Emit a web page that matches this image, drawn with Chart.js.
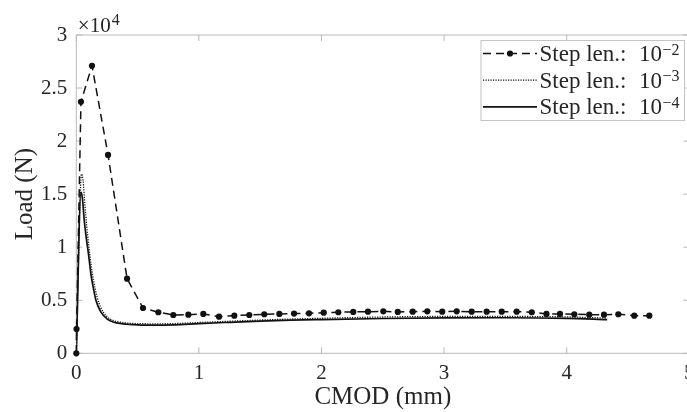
<!DOCTYPE html>
<html>
<head>
<meta charset="utf-8">
<script src="https://cdn.jsdelivr.net/npm/chart.js@4.4.1/dist/chart.umd.min.js"></script>
<style>
  html, body { margin: 0; padding: 0; background: #fff; overflow: hidden; }
  #wrap { width: 720px; height: 412px; }
</style>
</head>
<body>
<div id="wrap"><canvas id="loadChart" width="720" height="412"></canvas></div>
<script>
// Load vs CMOD for three step lengths
const cmodStep2 = [0, 0.002, 0.038, 0.128, 0.259, 0.414, 0.544, 0.669, 0.791, 0.914, 1.036, 1.164, 1.289, 1.411,
  1.533, 1.656, 1.776, 1.898, 2.018, 2.137, 2.259, 2.379, 2.504, 2.622, 2.744, 2.863, 2.985, 3.103, 3.225,
  3.347, 3.470, 3.592, 3.715, 3.835, 3.945, 4.062, 4.184, 4.304, 4.421, 4.551, 4.674];
const loadStep2 = [0, 2290, 23700, 27100, 18700, 7030, 4270, 3870, 3610, 3640, 3710, 3450, 3550, 3610,
  3680, 3710, 3740, 3770, 3830, 3870, 3900, 3920, 3960, 3900, 3920, 3960, 3920, 3960, 3920,
  3920, 3920, 3920, 3870, 3710, 3710, 3680, 3640, 3640, 3680, 3550, 3550];

const cmodStep3 = [0, 0.043, 0.055, 0.07, 0.085, 0.1, 0.12, 0.14, 0.17, 0.2, 0.25, 0.3, 0.38, 0.5, 0.65, 0.8,
  1.0, 1.25, 1.5, 1.75, 2.0, 2.5, 3.0, 3.5, 4.0, 4.33];
const loadStep3 = [0, 16900, 16300, 14000, 12000, 10300, 8400, 6900, 5300, 4300, 3450, 3100, 2900, 2800, 2780, 2800,
  2900, 3020, 3130, 3230, 3300, 3420, 3470, 3470, 3430, 3320];

const cmodStep4 = [0, 0.038, 0.05, 0.065, 0.08, 0.1, 0.12, 0.14, 0.16, 0.2, 0.25, 0.3, 0.38, 0.5, 0.65, 0.8,
  1.0, 1.25, 1.5, 1.75, 2.0, 2.5, 3.0, 3.5, 4.0, 4.33];
const loadStep4 = [0, 15200, 14600, 12500, 11000, 9300, 7400, 6100, 5000, 3900, 3250, 2950, 2780, 2680, 2650, 2680,
  2800, 2920, 3030, 3120, 3180, 3280, 3340, 3350, 3300, 3180];

const stepExponents = ['\u22122', '\u22123', '\u22124'];
const xTicks = [0, 1, 2, 3, 4, 5];
const yTicks = [0, 5000, 10000, 15000, 20000, 25000, 30000];
const yTickText = ['0', '0.5', '1', '1.5', '2', '2.5', '3'];

const AXIS_GRAY = '#b9b9b9';
const TEXT = '#262626';
const SERIF = '"Liberation Serif", "Times New Roman", serif';

const toPoints = (xs, ys) => xs.map((x, i) => ({ x: x, y: ys[i] }));

// box, inward ticks, the x10^4 multiplier and the legend
const framePlugin = {
  id: 'frame',
  beforeDatasetsDraw(chart) {
    const { ctx, chartArea: a, scales } = chart;
    const t = 6;
    ctx.save();
    ctx.strokeStyle = AXIS_GRAY;
    ctx.lineWidth = 1;
    ctx.strokeRect(a.left, a.top, a.right - a.left, a.bottom - a.top);
    ctx.beginPath();
    xTicks.forEach(v => {
      const px = scales.x.getPixelForValue(v);
      ctx.moveTo(px, a.bottom); ctx.lineTo(px, a.bottom - t);
      ctx.moveTo(px, a.top); ctx.lineTo(px, a.top + t);
    });
    yTicks.forEach(v => {
      const py = scales.y.getPixelForValue(v);
      ctx.moveTo(a.left, py); ctx.lineTo(a.left + t, py);
      ctx.moveTo(a.right, py); ctx.lineTo(a.right - t, py);
    });
    ctx.stroke();

    ctx.fillStyle = TEXT;
    ctx.textBaseline = 'alphabetic';
    ctx.textAlign = 'left';
    ctx.font = '21px ' + SERIF;
    ctx.fillText('\u00d710', a.left + 1.5, 31.5);
    ctx.font = '16px ' + SERIF;
    ctx.fillText('4', a.left + 35.5, 25);
    ctx.restore();
  },
  afterDatasetsDraw(chart) {
    const { ctx } = chart;
    const box = { left: 481, top: 40.5, right: 684.5, bottom: 120.5 };
    ctx.save();
    ctx.fillStyle = '#fff';
    ctx.fillRect(box.left, box.top, box.right - box.left, box.bottom - box.top);
    ctx.strokeStyle = '#c4c4c4';
    ctx.lineWidth = 1;
    ctx.strokeRect(box.left, box.top, box.right - box.left, box.bottom - box.top);

    chart.data.datasets.forEach((ds, i) => {
      const ly = 53.5 + i * 26.7;
      ctx.strokeStyle = ds.borderColor;
      ctx.lineWidth = ds.borderWidth;
      ctx.setLineDash(ds.borderDash || []);
      ctx.beginPath();
      ctx.moveTo(483, ly);
      ctx.lineTo(537, ly);
      ctx.stroke();
      ctx.setLineDash([]);
      if (ds.pointRadius > 0) {
        ctx.fillStyle = ds.pointBackgroundColor;
        ctx.beginPath();
        ctx.arc(510, ly, ds.pointRadius, 0, Math.PI * 2);
        ctx.fill();
      }
      ctx.fillStyle = TEXT;
      ctx.font = '23px ' + SERIF;
      ctx.fillText('Step len.:', 539.5, ly + 7.5);
      ctx.fillText('10', 639, ly + 7.5);
      ctx.font = '16px ' + SERIF;
      ctx.fillText(stepExponents[i], 662.5, ly + 1);
    });
    ctx.restore();
  }
};

const ctx = document.getElementById('loadChart').getContext('2d');

new Chart(ctx, {
  type: 'line',
  data: {
    datasets: [
      {
        label: 'Step len.: 10^-2',
        data: toPoints(cmodStep2, loadStep2),
        borderColor: '#111',
        borderWidth: 1.5,
        borderDash: [8, 5],
        pointRadius: 3.1,
        pointBackgroundColor: '#111',
        pointBorderWidth: 0,
        tension: 0,
        clip: 6
      },
      {
        label: 'Step len.: 10^-3',
        data: toPoints(cmodStep3, loadStep3),
        borderColor: '#111',
        borderWidth: 1.3,
        borderDash: [1.2, 1.3],
        pointRadius: 0,
        cubicInterpolationMode: 'monotone'
      },
      {
        label: 'Step len.: 10^-4',
        data: toPoints(cmodStep4, loadStep4),
        borderColor: '#111',
        borderWidth: 1.7,
        pointRadius: 0,
        cubicInterpolationMode: 'monotone'
      }
    ]
  },
  options: {
    responsive: false,
    animation: false,
    layout: { padding: { left: 0, top: 35, right: 720 - 689.3, bottom: 0 } },
    plugins: {
      legend: { display: false },
      tooltip: { enabled: false }
    },
    scales: {
      x: {
        type: 'linear',
        min: 0,
        max: 5,
        grid: { display: false },
        border: { display: false },
        afterFit: scale => { scale.height = 412 - 353.3; },
        afterBuildTicks: scale => { scale.ticks = xTicks.map(v => ({ value: v })); },
        ticks: {
          color: TEXT,
          padding: 0,
          maxRotation: 0,
          font: { family: SERIF, size: 21 }
        },
        title: {
          display: true,
          text: 'CMOD (mm)',
          color: TEXT,
          padding: 0,
          font: { family: SERIF, size: 25 }
        }
      },
      y: {
        min: 0,
        max: 30000,
        grid: { display: false },
        border: { display: false },
        afterFit: scale => { scale.width = 76.3; },
        afterBuildTicks: scale => { scale.ticks = yTicks.map(v => ({ value: v })); },
        ticks: {
          color: TEXT,
          padding: 1,
          font: { family: SERIF, size: 21 },
          callback: v => yTickText[yTicks.indexOf(v)]
        },
        title: {
          display: true,
          text: 'Load (N)',
          color: TEXT,
          padding: { top: 10, bottom: 0 },
          font: { family: SERIF, size: 25 }
        }
      }
    }
  },
  plugins: [framePlugin]
});
</script>
</body>
</html>
